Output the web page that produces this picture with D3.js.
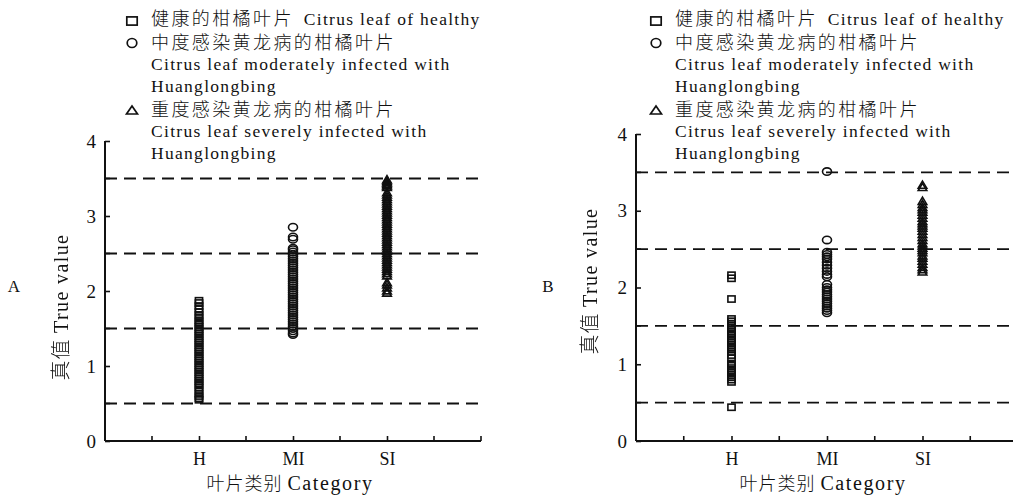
<!DOCTYPE html>
<html><head><meta charset="utf-8">
<script src="https://cdn.jsdelivr.net/npm/d3@7"></script>
<style>
html,body{margin:0;padding:0;background:#fff;}
svg{display:block;}
.lat{font-family:"Liberation Serif","Times New Roman",serif;}
.cjk{font-family:"Noto Sans CJK SC",sans-serif;font-weight:300;}
</style></head>
<body>
<svg id="c" width="1013" height="495"></svg>
<script>
// ---------- data ----------
const categories = ["H", "MI", "SI"];
const catPos = [1, 2, 3];
const yTicks = [0, 1, 2, 3, 4];
const yMinor = [0.5, 1.5, 2.5, 3.5];
const xMinor = [0.5, 1.5, 2.5, 3.5, 4];
const thresholds = [0.5, 1.5, 2.5, 3.5];
const panelLabels = ["A", "B"];

// Panel A values
const healthyA = [1.87,1.84,1.80,1.76,1.72,1.68,1.65,1.61,1.58,1.55,1.52,1.49,1.46,1.43,1.40,1.37,1.34,1.31,1.28,1.25,1.22,1.19,1.16,1.13,1.10,1.07,1.04,1.01,0.98,0.95,0.92,0.89,0.86,0.83,0.80,0.77,0.74,0.71,0.67,0.63,0.60,0.57,0.55];
const moderateA = [2.85,2.72,2.69,2.57,2.55,2.52,2.49,2.46,2.43,2.40,2.37,2.34,2.31,2.28,2.25,2.22,2.19,2.16,2.13,2.10,2.07,2.04,2.01,1.98,1.95,1.92,1.89,1.86,1.83,1.80,1.77,1.74,1.71,1.68,1.65,1.62,1.59,1.56,1.53,1.50,1.47,1.44,1.42];
const severeA = [3.49,3.47,3.45,3.43,3.41,3.39,3.32,3.29,3.26,3.23,3.20,3.17,3.14,3.11,3.08,3.05,3.02,2.99,2.96,2.93,2.90,2.87,2.84,2.81,2.78,2.75,2.72,2.69,2.66,2.63,2.60,2.57,2.54,2.51,2.48,2.45,2.42,2.39,2.36,2.33,2.30,2.27,2.24,2.21,2.12,2.09,2.05,2.01,1.98];

// Panel B values
const healthyB = [2.16,2.12,1.85,1.59,1.56,1.53,1.50,1.47,1.43,1.40,1.37,1.34,1.31,1.28,1.25,1.22,1.19,1.16,1.12,1.08,1.01,0.98,0.95,0.92,0.89,0.86,0.83,0.80,0.77,0.44];
const moderateB = [3.51,2.62,2.46,2.43,2.40,2.37,2.33,2.29,2.25,2.21,2.17,2.14,2.04,2.00,1.97,1.94,1.91,1.88,1.85,1.82,1.79,1.76,1.73,1.70,1.67];
const severeB = [3.34,3.31,3.13,3.09,3.05,3.02,2.99,2.95,2.91,2.87,2.84,2.81,2.78,2.74,2.70,2.66,2.62,2.58,2.55,2.52,2.49,2.46,2.42,2.39,2.35,2.31,2.27,2.24,2.21];

// Legend text
const legendCN = ["健康的柑橘叶片", "中度感染黄龙病的柑橘叶片", "重度感染黄龙病的柑橘叶片"];
const legendEN = ["Citrus leaf of healthy", "Citrus leaf moderately infected with", "Citrus leaf severely infected with"];
const legendEN2 = "Huanglongbing";
const yTitleCN = "真值", yTitleEN = "True value";
const xTitleCN = "叶片类别", xTitleEN = "Category";

// ---------- drawing ----------
const svg = d3.select("#c");

const panels = [
  {label: "A", data: [healthyA, moderateA, severeA], x0: 105, x1: 481, y0: 441, y1: 141,
   legX: 132, labX: 14, labY: 286, ytX: 62, ytY: 307, xtX: 290},
  {label: "B", data: [healthyB, moderateB, severeB], x0: 636, x1: 1018, y0: 441, y1: 134,
   legX: 656, labX: 548, labY: 286, ytX: 591, ytY: 281, xtX: 823}
];

function marker(g, type, cx, cy, big) {
  const sw = big ? 1.7 : 1.6;
  if (type === 0) {
    const w = big ? 10.4 : 7.2, h = big ? 8.2 : 6.2;
    g.append("rect").attr("x", cx - w / 2).attr("y", cy - h / 2)
      .attr("width", w).attr("height", h)
      .attr("fill", "none").attr("stroke", "#111").attr("stroke-width", sw);
  } else if (type === 1) {
    g.append("ellipse").attr("cx", cx).attr("cy", cy)
      .attr("rx", big ? 4.8 : 4.5).attr("ry", big ? 4.5 : 3.7)
      .attr("fill", "none").attr("stroke", "#111").attr("stroke-width", sw);
  } else {
    const w = big ? 5.5 : 4.3, h = big ? 4 : 3.6;
    g.append("path").attr("d", `M${cx},${cy - h}L${cx + w},${cy + h}L${cx - w},${cy + h}Z`)
      .attr("fill", "none").attr("stroke", "#111").attr("stroke-width", sw).attr("stroke-linejoin", "miter");
  }
}

panels.forEach(p => {
  const x = d3.scaleLinear().domain([0, 4]).range([p.x0, p.x1]);
  const y = d3.scaleLinear().domain([0, 4]).range([p.y0, p.y1]);
  const g = svg.append("g");

  // dashed thresholds
  g.selectAll("line.th").data(thresholds).join("line")
    .attr("x1", x(0)).attr("x2", x(4)).attr("y1", d => y(d)).attr("y2", d => y(d))
    .attr("stroke", "#111").attr("stroke-width", 1.8).attr("stroke-dasharray", "12,7");

  // points
  p.data.forEach((arr, i) => {
    const pg = g.append("g");
    arr.forEach(v => marker(pg, i, x(catPos[i]), y(v), false));
  });

  // y axis
  const yAxis = d3.axisLeft(y).tickValues(yTicks).tickSize(-5).tickPadding(9).tickFormat(d3.format("d"));
  const ya = g.append("g").attr("transform", `translate(${x(0)},0)`).call(yAxis);
  ya.selectAll(".tick text").attr("class", "lat").style("font-size", "19px").attr("fill", "#111");
  ya.selectAll("line").attr("stroke", "#111").attr("stroke-width", 1.6);
  ya.select(".domain").attr("d", `M0,${y(0)}V${y(4)}`).attr("stroke", "#111").attr("stroke-width", 2);
  g.selectAll("line.ym").data(yMinor).join("line")
    .attr("x1", x(0)).attr("x2", x(0) + 5).attr("y1", d => y(d)).attr("y2", d => y(d))
    .attr("stroke", "#111").attr("stroke-width", 1.6);

  // x axis
  const xAxis = d3.axisBottom(x).tickValues(catPos).tickSize(-5).tickPadding(11)
    .tickFormat((d, i) => categories[i]);
  const xa = g.append("g").attr("transform", `translate(0,${y(0)})`).call(xAxis);
  xa.selectAll(".tick text").attr("class", "lat").style("font-size", "18px").attr("fill", "#111");
  xa.selectAll("line").attr("stroke", "#111").attr("stroke-width", 1.6);
  xa.select(".domain").attr("d", `M${x(0)},0H${x(4)}`).attr("stroke", "#111").attr("stroke-width", 2);
  g.selectAll("line.xm").data(xMinor).join("line")
    .attr("x1", d => x(d)).attr("x2", d => x(d)).attr("y1", y(0)).attr("y2", y(0) - 5)
    .attr("stroke", "#111").attr("stroke-width", 1.6);

  // x title
  const xt = g.append("text").attr("x", p.xtX).attr("y", 490)
    .attr("text-anchor", "middle").attr("fill", "#111");
  xt.append("tspan").attr("class", "cjk").style("font-size", "18px").style("letter-spacing", "1px").text(xTitleCN + " ");
  xt.append("tspan").attr("class", "lat").style("font-size", "20px").style("letter-spacing", "1.6px").text(xTitleEN);

  // y title
  const yt = g.append("text").attr("transform", `translate(${p.ytX},${p.ytY}) rotate(-90)`)
    .attr("text-anchor", "middle").attr("dy", "0.35em").attr("fill", "#111").style("filter", "grayscale(1)");
  yt.append("tspan").attr("class", "cjk").style("font-size", "20px").style("letter-spacing", "1px").text(yTitleCN + " ");
  yt.append("tspan").attr("class", "lat").style("font-size", "20px").style("letter-spacing", "1.4px").text(yTitleEN);

  // panel label
  g.append("text").attr("class", "lat").attr("x", p.labX).attr("y", p.labY).attr("dy", "0.35em")
    .attr("text-anchor", "middle").style("font-size", "17px").attr("fill", "#111").text(p.label);

  // legend
  const lg = g.append("g");
  const tx = p.legX + 19;
  const rows = [25, 49, 70, 92, 116, 137, 159];
  marker(lg, 0, p.legX, 21, true);
  marker(lg, 1, p.legX, 43, true);
  marker(lg, 2, p.legX, 110, true);
  const latSize = "17.5px", latLs = "1.3px";
  const t1 = lg.append("text").attr("x", tx).attr("y", rows[0]).attr("fill", "#111");
  t1.append("tspan").attr("class", "cjk").style("font-size", "18px").style("letter-spacing", "2.4px").text(legendCN[0]);
  t1.append("tspan").attr("class", "lat").attr("dx", 10).style("font-size", latSize).style("letter-spacing", latLs).text(legendEN[0]);
  lg.append("text").attr("class", "cjk").attr("x", tx).attr("y", rows[1]).style("font-size", "18px").style("letter-spacing", "2.4px").attr("fill", "#111").text(legendCN[1]);
  lg.append("text").attr("class", "lat").attr("x", tx).attr("y", rows[2]).style("font-size", latSize).style("letter-spacing", latLs).attr("fill", "#111").text(legendEN[1]);
  lg.append("text").attr("class", "lat").attr("x", tx).attr("y", rows[3]).style("font-size", latSize).style("letter-spacing", latLs).attr("fill", "#111").text(legendEN2);
  lg.append("text").attr("class", "cjk").attr("x", tx).attr("y", rows[4]).style("font-size", "18px").style("letter-spacing", "2.4px").attr("fill", "#111").text(legendCN[2]);
  lg.append("text").attr("class", "lat").attr("x", tx).attr("y", rows[5]).style("font-size", latSize).style("letter-spacing", latLs).attr("fill", "#111").text(legendEN[2]);
  lg.append("text").attr("class", "lat").attr("x", tx).attr("y", rows[6]).style("font-size", latSize).style("letter-spacing", latLs).attr("fill", "#111").text(legendEN2);
});
</script>
</body></html>
